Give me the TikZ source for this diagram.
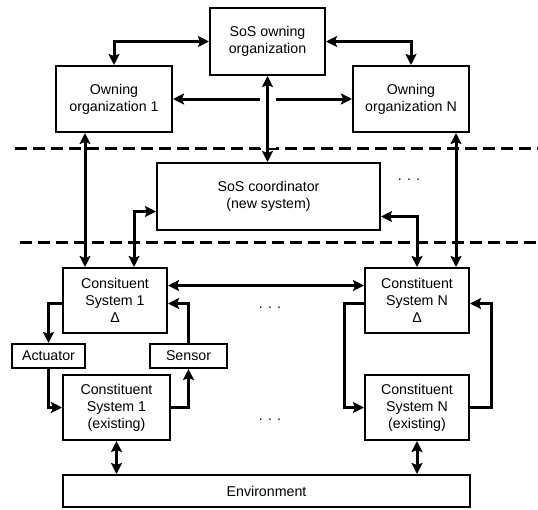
\documentclass[tikz,border=0pt]{standalone}
\usepackage{fontspec}
\setmainfont{Liberation Sans}
\usetikzlibrary{arrows.meta, positioning}

\begin{document}
\begin{tikzpicture}[x=1pt, y=-1pt,
    box/.style={rectangle, draw, line width=2pt, align=center, inner sep=0pt, font=\fontsize{14.2}{17}\selectfont},
    conn/.style={line width=3pt},
    arrow/.style={conn, -{Stealth[length=11pt, width=11pt, inset=2pt]}},
    biarrow/.style={conn, {Stealth[length=11pt, width=11pt, inset=2pt]}-{Stealth[length=11pt, width=11pt, inset=2pt]}},
    layer/.style={line width=3pt, dash pattern=on 12pt off 6pt},
    gap/.style={preaction={draw=white, line width=16pt, -, shorten >=14pt, shorten <=14pt}},
    dots/.style={font=\fontsize{14.2}{17}\selectfont, inner sep=0pt}
]
\useasboundingbox (0,0) rectangle (538,509);

% owners
\node[box, minimum width=115pt, minimum height=67pt] (sosown) at (267.5,41.5) {SoS owning\\organization};
\node[box, minimum width=116pt, minimum height=66pt] (own1) at (114,99) {Owning\\organization 1};
\node[box, minimum width=116pt, minimum height=66pt] (ownN) at (411,99) {Owning\\organization N};

% coordinator
\node[box, minimum width=223pt, minimum height=67pt] (coord) at (268.5,196.5) {SoS coordinator\\(new system)};
\node[dots] (dotsA) at (409,180) {. . .};

% constituent systems
\node[box, minimum width=104pt, minimum height=65pt] (cs1) at (115,300.5) {Consituent\\System 1\\Δ};
\node[box, minimum width=104pt, minimum height=65pt] (csN) at (417,300.5) {Constituent\\System N\\Δ};
\node[dots] (dotsB) at (270,308) {. . .};
\node[box, minimum width=73pt, minimum height=24pt] (act) at (48.5,356) {Actuator};
\node[box, minimum width=77pt, minimum height=24pt] (sens) at (188.5,356) {Sensor};
\node[box, minimum width=107pt, minimum height=65pt] (cs1e) at (116.5,407.5) {Constituent\\System 1\\(existing)};
\node[box, minimum width=104pt, minimum height=65pt] (csNe) at (417,407.5) {Constituent\\System N\\(existing)};
\node[dots] (dotsC) at (270,420) {. . .};
\node[box, minimum width=407pt, minimum height=32pt] (env) at (266.5,491) {Environment};

% layer borders
\draw[layer] (15,148) -- (538,148);
\draw[layer] (20,242) -- (538,242);

% owner links
\draw[biarrow] (sosown.west) -| (own1.north);
\draw[biarrow] (sosown.east) -| (ownN.north);
\draw[biarrow] (own1) -- (ownN);
\draw[biarrow, gap] (sosown.south) -- (coord.north -| sosown.south);
\draw[biarrow] ([xshift=30pt]own1.south west) -- ([xshift=30pt]own1.south west |- cs1.north);
\draw[biarrow] ([xshift=-14pt]ownN.south east) -- ([xshift=-14pt]ownN.south east |- csN.north);

% coordinator links
\draw[biarrow] ([yshift=-15pt]coord.west) -| ([xshift=19pt]cs1.north);
\draw[biarrow] ([yshift=-20pt]coord.east) -| (csN.north);
\draw[biarrow] ([yshift=15pt]cs1.east) -- ([yshift=15pt]csN.west);

% control loop 1
\draw[arrow] ([yshift=-3pt]cs1.west) -| (act.north);
\draw[arrow] (act.south) |- (cs1e.west);
\draw[arrow] (cs1e.east) -| (sens.south);
\draw[arrow] (sens.north) |- ([yshift=-3pt]cs1.east);

% control loop N
\draw[arrow] ([yshift=-3pt]csN.west) -- ++(-20,0) |- (csNe.west);
\draw[arrow] (csNe.east) -- ++(21,0) |- ([yshift=-3pt]csN.east);

% environment
\draw[biarrow] (cs1e.south) -- (cs1e.south |- env.north);
\draw[biarrow] (csNe.south) -- (csNe.south |- env.north);

\end{tikzpicture}
\end{document}
